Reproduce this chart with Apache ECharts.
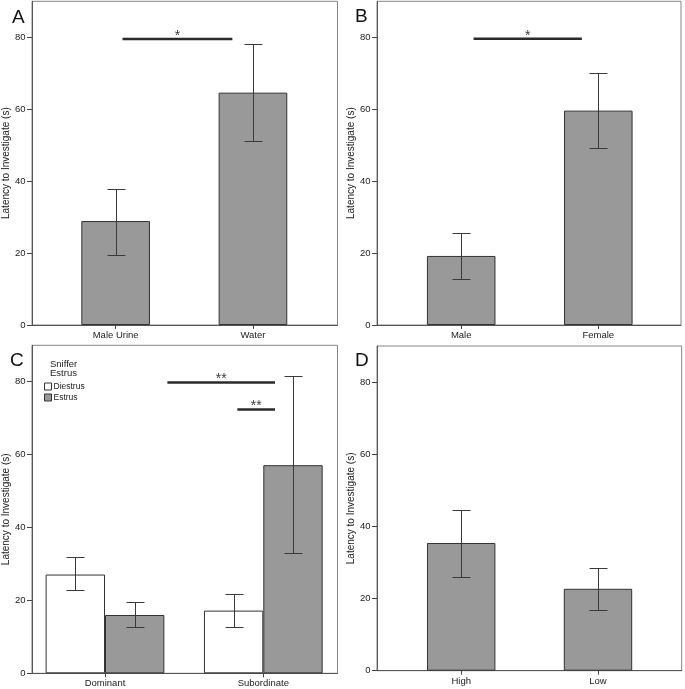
<!DOCTYPE html>
<html><head><meta charset="utf-8">
<script src="https://cdn.jsdelivr.net/npm/echarts@6/dist/echarts.min.js"></script>
<style>html,body{margin:0;padding:0;background:#fff}#c{width:685px;height:689px}</style>
</head><body><div id="c"></div>
<script>
// ---------- DATA ----------
const yTitle = 'Latency to Investigate (s)';
const yTicks = [0, 20, 40, 60, 80];
const yMax = 90;

// Panel A
const catsA = ['Male Urine', 'Water'];
const meanA = [28.9, 64.6];
const lowA = [19.4, 51.2];
const highA = [37.9, 78.0];
const sigA = [[0.05, 0.85, 79.5]];
const sigLabelsA = ['*'];

// Panel B
const catsB = ['Male', 'Female'];
const meanB = [19.2, 59.6];
const lowB = [12.9, 49.2];
const highB = [25.7, 70.0];
const sigB = [[0.09, 0.88, 79.6]];
const sigLabelsB = ['*'];

// Panel C
const catsC = ['Dominant', 'Subordinate'];
const groupNamesC = ['Diestrus', 'Estrus'];
const legendTitleC = 'Sniffer\nEstrus';
const meanCDiestrus = [27.1, 17.2];
const lowCDiestrus = [22.8, 12.8];
const highCDiestrus = [31.8, 21.7];
const meanCEstrus = [16.0, 57.1];
const lowCEstrus = [12.6, 32.9];
const highCEstrus = [19.6, 81.6];
const sigC = [[0.394, 1.074, 79.8], [0.836, 1.074, 72.4]];
const sigLabelsC = ['**', '**'];

// Panel D
const catsD = ['High', 'Low'];
const meanD = [35.4, 22.7];
const lowD = [26.0, 16.7];
const highD = [44.5, 28.6];

const panelLetters = ['A', 'B', 'C', 'D'];

// ---------- STYLE / LAYOUT ----------
const FONT = '"Liberation Sans", Arial, Helvetica, sans-serif';
const GRAY = '#999999';
const DARK = '#3a3a3a';
const layout = [
  { frame: { left: 32, top: 1.3, width: 305.5, height: 323.7 }, data: { left: 47, width: 274.6 }, letter: [12, 18] },
  { frame: { left: 377, top: 1.3, width: 304, height: 323.7 }, data: { left: 392.65, width: 274.2 }, letter: [355, 17.5] },
  { frame: { left: 30, top: 345.3, width: 307.5, height: 328 }, data: { left: 25.85, width: 316.6 }, letter: [10, 361] },
  { frame: { left: 377, top: 346, width: 304.7, height: 324.7 }, data: { left: 392.8, width: 273.6 }, letter: [355, 361] }
];

const grid = [], xAxis = [], yAxis = [], series = [], graphic = [];

function addPanel(k, cats) {
  const L = layout[k];
  const fg = grid.length;
  grid.push({ left: L.frame.left, top: L.frame.top, width: L.frame.width, height: L.frame.height,
    show: true, borderColor: '#858585', borderWidth: 1, backgroundColor: 'transparent' });
  const dg = grid.length;
  grid.push({ left: L.data.left, top: L.frame.top, width: L.data.width, height: L.frame.height });
  // frame axes
  xAxis.push({ gridIndex: fg, type: 'value', min: 0, max: 1,
    axisLine: { show: true, lineStyle: { color: '#555', width: 1 } },
    axisTick: { show: false }, axisLabel: { show: false }, splitLine: { show: false } });
  yAxis.push({ gridIndex: fg, type: 'value', min: 0, max: yMax,
    axisLine: { show: true, lineStyle: { color: '#555', width: 1 } },
    axisTick: { show: true, length: 5, customValues: yTicks, lineStyle: { color: '#444' } },
    axisLabel: { show: true, customValues: yTicks, fontSize: 9.5, color: '#1a1a1a', margin: 6.5, fontFamily: FONT },
    splitLine: { show: false },
    name: yTitle, nameLocation: 'middle', nameGap: 18.5,
    nameTextStyle: { fontSize: 10, color: '#1a1a1a', fontFamily: FONT } });
  // data axes
  const cx = xAxis.length;
  xAxis.push({ gridIndex: dg, type: 'category', data: cats, boundaryGap: true,
    axisLine: { show: false },
    axisTick: { show: true, alignWithLabel: true, length: 4, lineStyle: { color: '#444' } },
    axisLabel: { fontSize: 9.5, color: '#1a1a1a', margin: 5.5, fontFamily: FONT },
    splitLine: { show: false } });
  const vx = xAxis.length;
  xAxis.push({ gridIndex: dg, type: 'value', min: -0.5, max: 1.5, show: false });
  const dy = yAxis.length;
  yAxis.push({ gridIndex: dg, type: 'value', min: 0, max: yMax, show: false });
  graphic.push({ type: 'text', left: L.letter[0], top: L.letter[1] - 10,
    style: { text: panelLetters[k], font: '19px ' + FONT, fill: '#111' } });
  return { cx, vx, dy };
}

function errSeries(ax, lows, highs, shiftFrac) {
  return {
    type: 'custom', xAxisIndex: ax.cx, yAxisIndex: ax.dy, z: 5, silent: true,
    data: lows.map((l, i) => [i, l, highs[i]]),
    encode: { x: 0, y: [1, 2] },
    renderItem(params, api) {
      const i = api.value(0);
      const band = api.size([1, 0])[0];
      const top = api.coord([i, api.value(2)]);
      const bot = api.coord([i, api.value(1)]);
      const x = Math.round(top[0] + band * shiftFrac) + 0.5;
      const cap = 9;
      const st = { stroke: DARK, lineWidth: 1 };
      const yt = Math.round(top[1]) + 0.5, yb = Math.round(bot[1]) + 0.5;
      return { type: 'group', children: [
        { type: 'line', shape: { x1: x, y1: yt, x2: x, y2: yb }, style: st },
        { type: 'line', shape: { x1: x - cap, y1: yt, x2: x + cap, y2: yt }, style: st },
        { type: 'line', shape: { x1: x - cap, y1: yb, x2: x + cap, y2: yb }, style: st }
      ] };
    }
  };
}

function sigSeries(ax, sig, labels) {
  return {
    type: 'custom', xAxisIndex: ax.vx, yAxisIndex: ax.dy, z: 6, silent: true, clip: false,
    data: sig, encode: { x: [0, 1], y: 2 },
    renderItem(params, api) {
      const a = api.coord([api.value(0), api.value(2)]);
      const b = api.coord([api.value(1), api.value(2)]);
      return { type: 'group', children: [
        { type: 'line', shape: { x1: a[0], y1: a[1], x2: b[0], y2: b[1] }, style: { stroke: '#2a2a2a', lineWidth: 2.5 } },
        { type: 'text', x: (a[0] + b[0]) / 2, y: a[1] - 3,
          style: { text: labels[params.dataIndex], fill: '#3a3a3a', font: '14px ' + FONT, align: 'center', verticalAlign: 'middle' } }
      ] };
    }
  };
}

function barSeries(ax, name, data, color, width, gap) {
  const s = { type: 'bar', name: name, xAxisIndex: ax.cx, yAxisIndex: ax.dy, data: data, barWidth: width,
    itemStyle: { color: color, borderColor: '#333', borderWidth: 1 }, z: 3, silent: true };
  if (gap !== undefined) s.barGap = gap;
  return s;
}

// A
let ax = addPanel(0, catsA);
series.push(barSeries(ax, 'A', meanA, GRAY, '50%'));
series.push(errSeries(ax, lowA, highA, 0));
series.push(sigSeries(ax, sigA, sigLabelsA));
// B
ax = addPanel(1, catsB);
series.push(barSeries(ax, 'B', meanB, GRAY, '50%'));
series.push(errSeries(ax, lowB, highB, 0));
series.push(sigSeries(ax, sigB, sigLabelsB));
// C
ax = addPanel(2, catsC);
const barFracC = 0.375;
series.push(barSeries(ax, groupNamesC[0], meanCDiestrus, '#ffffff', (barFracC * 100) + '%', '0%'));
series.push(barSeries(ax, groupNamesC[1], meanCEstrus, GRAY, (barFracC * 100) + '%', '0%'));
series.push(errSeries(ax, lowCDiestrus, highCDiestrus, -barFracC / 2));
series.push(errSeries(ax, lowCEstrus, highCEstrus, barFracC / 2));
series.push(sigSeries(ax, sigC, sigLabelsC));
// D
ax = addPanel(3, catsD);
series.push(barSeries(ax, 'D', meanD, GRAY, '50%'));
series.push(errSeries(ax, lowD, highD, 0));

graphic.push({ type: 'text', left: 50, top: 359,
  style: { text: legendTitleC, font: '9.5px ' + FONT, fill: '#222', lineHeight: 9.5 } });

const chart = echarts.init(document.getElementById('c'), null, { renderer: 'canvas' });
chart.setOption({
  animation: false,
  textStyle: { fontFamily: FONT },
  grid, xAxis, yAxis, series, graphic,
  legend: {
    data: groupNamesC, orient: 'vertical', left: 44, top: 382, padding: 0,
    itemWidth: 7, itemHeight: 7, itemGap: 2, icon: 'rect', selectedMode: false,
    itemStyle: { borderColor: '#333', borderWidth: 1 },
    textStyle: { fontSize: 8.5, color: '#222', fontFamily: FONT, padding: [0, 0, 0, -3] }
  }
});
</script>
</body></html>
